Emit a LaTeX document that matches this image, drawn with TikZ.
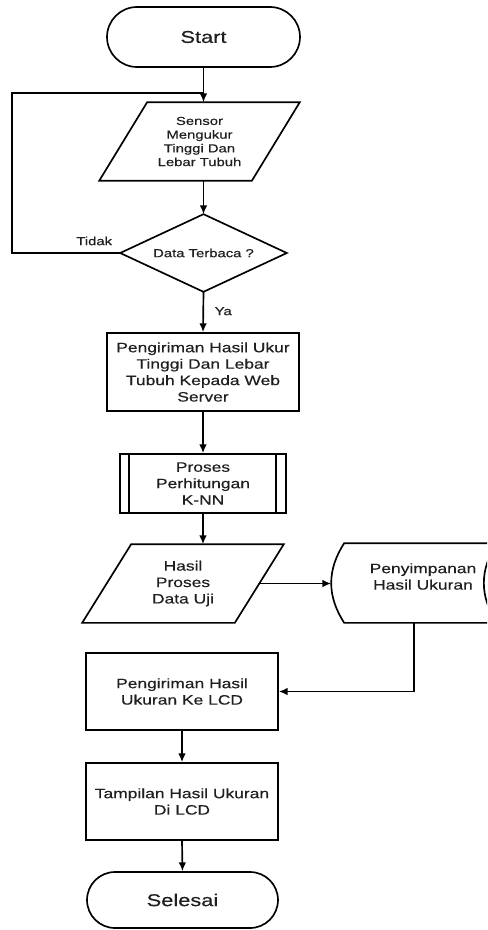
\documentclass[tikz,border=0pt]{standalone}
\usepackage{fontspec}
\setmainfont{Liberation Sans}[FakeStretch=1.28,FakeBold=0.35]
\usetikzlibrary{shapes.misc,arrows.meta,calc}
\newcommand\fbig{\fontsize{9.7}{11.6}\selectfont}
\newcommand\fmed{\fontsize{7.75}{9.35}\selectfont}
\newcommand\fsm{\fontsize{6.6}{7.8}\selectfont}
\definecolor{txtcol}{gray}{0.12}
\tikzset{
  base/.style={inner sep=0pt, align=center, text=txtcol},
  term/.style={base, rounded rectangle, draw, font=\fbig},
  proc/.style={base, rectangle, draw, font=\fmed},
  ghost/.style={base, rectangle, font=\fmed},
  lbl/.style={base, font=\fsm},
  arr/.style={-{Latex[length=5pt,width=4.3pt]}},
  outline/.style={draw, line join=miter},
}
\begin{document}
\begin{tikzpicture}[x=0.02cm,y=-0.02cm,line width=0.95pt]
\useasboundingbox (0,0) rectangle (487,930);
\clip (0,0) rectangle (487,930);
\fill[white] (0,0) rectangle (487,930);

% nodes
\node[term, minimum width=3.86cm, minimum height=1.2cm] (start) at (203.5,37) {Start};
\node[ghost, font=\fsm, minimum width=3.02cm, minimum height=1.54cm] (p1) at (199.5,141.5) {Sensor\\Mengukur\\Tinggi Dan\\Lebar Tubuh};
\node[ghost, font=\fsm, minimum width=3.3cm, minimum height=1.52cm] (d) at (203.5,253) {Data Terbaca ?};
\node[proc, minimum width=3.84cm, minimum height=1.56cm] (b1) at (203,372) {Pengiriman Hasil Ukur\\Tinggi Dan Lebar\\Tubuh Kepada Web\\Server};
\node[proc, minimum width=3.32cm, minimum height=1.18cm] (kp) at (203,483.5) {Proses\\Perhitungan\\K-NN};
\node[ghost, minimum width=3.02cm, minimum height=1.54cm] (p2) at (183,583.5) {Hasil\\Proses\\Data Uji};
\node[ghost, minimum width=3.28cm, minimum height=1.56cm,
      label={[base, font=\fmed, xshift=0.18cm, yshift=0.13cm]center:{Penyimpanan\\Hasil Ukuran}}] (sd) at (414,583) {};
\node[proc, minimum width=3.84cm, minimum height=1.54cm] (b2) at (182,691.5) {Pengiriman Hasil\\Ukuran Ke LCD};
\node[proc, minimum width=3.84cm, minimum height=1.54cm] (b3) at (182,801.5) {Tampilan Hasil Ukuran\\Di LCD};
\node[term, minimum width=3.82cm, minimum height=1.12cm] (end) at (182.5,900) {Selesai};
\coordinate (lp) at (12,93);

% outlines of special shapes
\draw[outline] ($(p1.north west)+(24,0)$) -- ($(p1.north east)+(24,0)$) -- ($(p1.south east)+(-24,0)$) -- ($(p1.south west)+(-24,0)$) -- cycle;
\draw[outline] (d.north) -- (d.east) -- (d.south) -- (d.west) -- cycle;
\draw ($(kp.north west)+(10,0)$) -- ($(kp.south west)+(10,0)$);
\draw ($(kp.north east)+(-11,0)$) -- ($(kp.south east)+(-11,0)$);
\draw[outline] ($(p2.north west)+(24.5,0)$) -- ($(p2.north east)+(24.5,0)$) -- ($(p2.south east)+(-24.5,0)$) -- ($(p2.south west)+(-24.5,0)$) -- cycle;
\draw[outline] ($(sd.north west)+(13,0)$) -- (sd.north east)
   .. controls ($(sd.east)+(-17.3,-13)$) and ($(sd.east)+(-17.3,13)$) .. (sd.south east)
   -- ($(sd.south west)+(13,0)$)
   .. controls ($(sd.west)+(-4.3,13)$) and ($(sd.west)+(-4.3,-13)$) .. cycle;

% connectors
\draw[arr] (start.south) -- (start.south |- p1.north);
\draw (d.west) -- node[lbl, pos=0.24, yshift=0.24cm] {Tidak} (d.west -| lp) -- (lp) -- (lp -| start.south);
\draw[arr] (p1.south -| d.north) -- (d.north);
\draw[arr] (d.south) -- node[lbl, pos=0.48, xshift=0.4cm] {Ya} (b1.north);
\draw[arr] (b1.south) -- (kp.north);
\draw[arr] (kp.south) -- (kp.south |- p2.north);
\draw[arr] (p2.east) -- (p2.east -| sd.west);
\draw[arr] (sd.south) |- (b2.east);
\draw[arr] (b2.south) -- (b3.north);
\draw[arr] (b3.south) -- (end.north);
\end{tikzpicture}
\end{document}
